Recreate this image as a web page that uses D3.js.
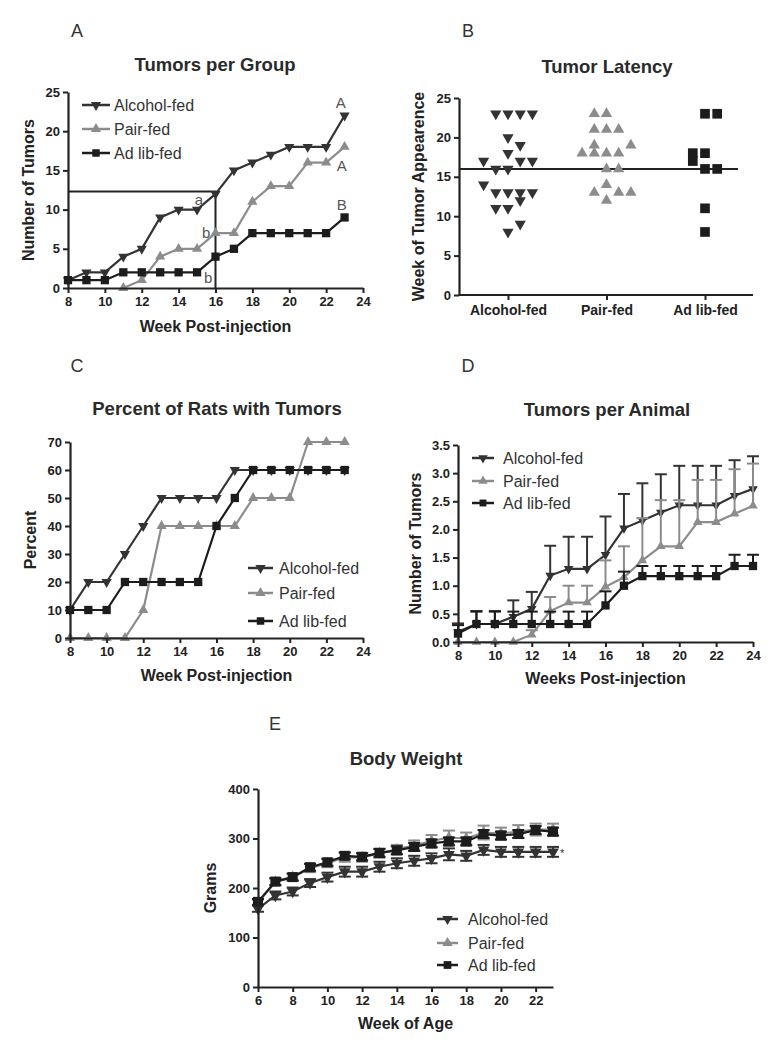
<!DOCTYPE html>
<html>
<head>
<meta charset="utf-8">
<script src="https://cdn.jsdelivr.net/npm/d3@7"></script>
<style>
  body { margin: 0; background: #fff; }
  svg { display: block; }
  text { font-family: "Liberation Sans", Arial, sans-serif; }
</style>
</head>
<body>
<svg id="fig" width="781" height="1050"></svg>
<script>
// ---------- DATA ----------
const groups = ["Alcohol-fed", "Pair-fed", "Ad lib-fed"];

// A: cumulative tumors per group
const weeksA = [8, 9, 10, 11, 12, 13, 14, 15, 16, 17, 18, 19, 20, 21, 22, 23];
const tumorsAlcohol = [1, 2, 2, 4, 5, 9, 10, 10, 12, 15, 16, 17, 18, 18, 18, 22];
const tumorsPair = [null, null, null, 0, 1, 4, 5, 5, 7, 7, 11, 13, 13, 16, 16, 18];
const tumorsAdlib = [1, 1, 1, 2, 2, 2, 2, 2, 4, 5, 7, 7, 7, 7, 7, 9];
const refWeek = 16, refCount = 12.3;
const letterText = ["a", "b", "b", "A", "A", "B"];
const letterWeek = [15.1, 15.5, 15.6, 22.8, 22.85, 22.85];
const letterCount = [11.2, 7.1, 1.3, 23.6, 15.6, 10.6];

// B: week of tumor appearance (value, column slot within group)
const latencyAlcohol = [23, 23, 23, 23, 20, 19, 18, 17, 17, 17, 16, 16, 14, 13, 13, 13, 13, 12, 11, 11, 9, 8];
const slotAlcohol    = [-1, 0, 1, 2, 0, 1, 0, -2, 1, 2, -1, 0, -2, -1, 0, 1, 2, 1, -1, 0, 1, 0];
const latencyPair = [23, 23, 21, 21, 21, 19, 19, 18, 18, 18, 18, 16, 16, 14, 13, 13, 13, 12];
const slotPair    = [-1, 0, -1, 0, 1, -1, 2, -2, -1, 0, 1, 0, 1, 0, -1, 1, 2, 0];
const latencyAdlib = [23, 23, 18, 18, 17, 16, 16, 11, 8];
const slotAdlib    = [0, 1, -1, 0, -1, 0, 1, 0, 0];
const latencyMean = 16;

// C: percent of rats with tumors
const weeksC = [8, 9, 10, 11, 12, 13, 14, 15, 16, 17, 18, 19, 20, 21, 22, 23];
const pctAlcohol = [10, 20, 20, 30, 40, 50, 50, 50, 50, 60, 60, 60, 60, 60, 60, 60];
const pctPair = [0, 0, 0, 0, 10, 40, 40, 40, 40, 40, 50, 50, 50, 70, 70, 70];
const pctAdlib = [10, 10, 10, 20, 20, 20, 20, 20, 40, 50, 60, 60, 60, 60, 60, 60];

// D: tumors per animal (mean, SEM)
const weeksD = [8, 9, 10, 11, 12, 13, 14, 15, 16, 17, 18, 19, 20, 21, 22, 23, 24];
const perAnimalAlcohol = [0.18, 0.32, 0.32, 0.45, 0.59, 1.18, 1.3, 1.3, 1.55, 2.02, 2.16, 2.3, 2.43, 2.43, 2.43, 2.6, 2.72];
const semAlcoholD = [0.15, 0.23, 0.23, 0.29, 0.3, 0.53, 0.57, 0.57, 0.68, 0.61, 0.66, 0.68, 0.7, 0.7, 0.7, 0.63, 0.58];
const perAnimalPair = [0, 0, 0, 0, 0.13, 0.55, 0.7, 0.7, 0.98, 1.15, 1.45, 1.7, 1.7, 2.13, 2.13, 2.28, 2.42];
const semPairD = [0, 0, 0, 0, 0.08, 0.25, 0.3, 0.3, 0.47, 0.55, 0.75, 0.82, 0.82, 0.75, 0.75, 0.79, 0.75];
const perAnimalAdlib = [0.15, 0.32, 0.32, 0.32, 0.32, 0.32, 0.32, 0.32, 0.65, 1.0, 1.17, 1.17, 1.17, 1.17, 1.17, 1.35, 1.35];
const semAdlibD = [0.15, 0.22, 0.22, 0.22, 0.22, 0.22, 0.22, 0.22, 0.25, 0.25, 0.18, 0.18, 0.18, 0.18, 0.18, 0.2, 0.2];

// E: body weight (mean, SEM)
const weeksE = [6, 7, 8, 9, 10, 11, 12, 13, 14, 15, 16, 17, 18, 19, 20, 21, 22, 23];
const weightAlcohol = [158, 185, 193, 210, 222, 233, 233, 243, 250, 255, 260, 268, 265, 277, 273, 273, 273, 273];
const semAlcoholE = [6, 8, 8, 8, 9, 10, 10, 10, 10, 10, 10, 12, 10, 10, 10, 10, 10, 10];
const weightPair = [170, 212, 222, 240, 250, 262, 262, 270, 278, 286, 295, 302, 300, 312, 310, 314, 318, 318];
const semPairE = [6, 7, 7, 8, 8, 9, 9, 9, 9, 10, 12, 14, 12, 14, 12, 13, 12, 12];
const weightAdlib = [172, 213, 222, 242, 252, 265, 263, 271, 276, 283, 290, 294, 294, 309, 306, 309, 317, 314];
const semAdlibE = [6, 7, 7, 7, 7, 7, 7, 8, 8, 8, 8, 8, 8, 8, 8, 8, 8, 8];

// ---------- STYLE ----------
const colors = { "Alcohol-fed": "#333333", "Pair-fed": "#8c8c8c", "Ad lib-fed": "#1c1c1c" };
const shapes = { "Alcohol-fed": "down", "Pair-fed": "up", "Ad lib-fed": "square" };
const axisColor = "#222";

const svg = d3.select("#fig");

function symbolPath(kind, size) {
  if (kind === "square") return d3.symbol(d3.symbolSquare, size * 1.25)();
  return d3.symbol(d3.symbolTriangle, size)();
}
function addSymbol(g, kind, x, y, size, color) {
  g.append("path")
    .attr("d", symbolPath(kind, size))
    .attr("transform", `translate(${x},${y})` + (kind === "down" ? " rotate(180)" : ""))
    .attr("fill", color);
}

function styleAxis(a, fs) {
  a.select(".domain").attr("stroke", axisColor).attr("stroke-width", 2.2);
  a.selectAll(".tick line").attr("stroke", axisColor).attr("stroke-width", 2);
  a.selectAll(".tick text").attr("fill", axisColor).attr("font-size", fs)
    .attr("font-weight", "bold").attr("font-family", '"Liberation Sans", Arial, sans-serif');
}

function drawAxes(g, x, y, xTicks, yTicks, yFmt, xLabel, yLabel, xLabelY, yLabelX) {
  const ax = g.append("g").attr("transform", `translate(0,${y.range()[0]})`)
    .call(d3.axisBottom(x).tickValues(xTicks).tickSize(5).tickSizeOuter(0).tickPadding(4));
  const ay = g.append("g").attr("transform", `translate(${x.range()[0]},0)`)
    .call(d3.axisLeft(y).tickValues(yTicks).tickFormat(yFmt).tickSize(5).tickSizeOuter(0).tickPadding(3));
  styleAxis(ax, 13);
  styleAxis(ay, 13);
  if (xLabel) {
    g.append("text").attr("x", (x.range()[0] + x.range()[1]) / 2).attr("y", xLabelY)
      .attr("text-anchor", "middle").attr("font-size", 16).attr("font-weight", "bold")
      .attr("fill", axisColor).text(xLabel);
  }
  const yc = (y.range()[0] + y.range()[1]) / 2;
  g.append("text").attr("transform", `translate(${yLabelX},${yc}) rotate(-90)`)
    .attr("text-anchor", "middle").attr("font-size", 16).attr("font-weight", "bold")
    .attr("fill", axisColor).text(yLabel);
}

function title(text, x, y) {
  svg.append("text").attr("x", x).attr("y", y).attr("text-anchor", "middle")
    .attr("font-size", 18.5).attr("font-weight", "bold").attr("fill", "#2a2a2a").text(text);
}
function panelLetter(text, x, y) {
  svg.append("text").attr("x", x).attr("y", y).attr("text-anchor", "middle")
    .attr("font-size", 18).attr("fill", "#333").text(text);
}

function drawSeries(g, x, y, weeks, vals, group, size, sem, bothSides) {
  const pts = weeks.map((w, i) => ({ w, v: vals[i], e: sem ? sem[i] : 0 })).filter(d => d.v != null);
  const c = colors[group];
  if (sem) {
    pts.filter(d => d.e > 0).forEach(d => {
      const lo = bothSides ? d.v - d.e : d.v;
      g.append("line").attr("x1", x(d.w)).attr("x2", x(d.w)).attr("y1", y(lo)).attr("y2", y(d.v + d.e))
        .attr("stroke", c).attr("stroke-width", 2);
      const caps = bothSides ? [d.v + d.e, d.v - d.e] : [d.v + d.e];
      caps.forEach(cv => g.append("line").attr("x1", x(d.w) - 6).attr("x2", x(d.w) + 6)
        .attr("y1", y(cv)).attr("y2", y(cv)).attr("stroke", c).attr("stroke-width", 2));
    });
  }
  g.append("path").datum(pts)
    .attr("d", d3.line().x(d => x(d.w)).y(d => y(d.v)))
    .attr("fill", "none").attr("stroke", c).attr("stroke-width", 2.2);
  pts.forEach(d => addSymbol(g, shapes[group], x(d.w), y(d.v), size, c));
}

function legend(g, x0, x1, tx, ys, size) {
  groups.forEach((grp, i) => {
    const c = colors[grp];
    g.append("line").attr("x1", x0).attr("x2", x1).attr("y1", ys[i]).attr("y2", ys[i])
      .attr("stroke", c).attr("stroke-width", 2.5);
    addSymbol(g, shapes[grp], (x0 + x1) / 2, ys[i], size, c);
    g.append("text").attr("x", tx).attr("y", ys[i]).attr("dy", "0.35em")
      .attr("font-size", 16).attr("fill", "#333").text(grp);
  });
}

// ---------- PANEL A ----------
{
  const g = svg.append("g");
  const x = d3.scaleLinear().domain([8, 24]).range([68, 363]);
  const y = d3.scaleLinear().domain([0, 25]).range([288, 92]);
  // reference box
  g.append("path")
    .attr("d", `M${x(8)},${y(refCount)}H${x(refWeek)}V${y(0)}`)
    .attr("fill", "none").attr("stroke", axisColor).attr("stroke-width", 2);
  drawSeries(g, x, y, weeksA, tumorsAlcohol, "Alcohol-fed", 45);
  drawSeries(g, x, y, weeksA, tumorsPair, "Pair-fed", 45);
  drawSeries(g, x, y, weeksA, tumorsAdlib, "Ad lib-fed", 55);
  drawAxes(g, x, y, d3.range(8, 25, 2), d3.range(0, 26, 5), d3.format("d"),
    "Week Post-injection", "Number of Tumors", 332, 34);
  letterText.forEach((t, i) => {
    g.append("text").attr("x", x(letterWeek[i])).attr("y", y(letterCount[i])).attr("dy", "0.35em")
      .attr("text-anchor", "middle").attr("font-size", 15).attr("fill", "#555").text(t);
  });
  legend(g, 82, 110, 114, [105, 129, 153], 45);
  title("Tumors per Group", 215, 71);
  panelLetter("A", 77, 37);
}

// ---------- PANEL B ----------
{
  const g = svg.append("g");
  const x = d3.scalePoint().domain(groups).range([508, 705]);
  const y = d3.scaleLinear().domain([0, 25]).range([295, 98]);
  const slotW = 12.2;
  g.append("line").attr("x1", 459).attr("x2", 738).attr("y1", y(latencyMean)).attr("y2", y(latencyMean))
    .attr("stroke", axisColor).attr("stroke-width", 2);
  const sets = [[latencyAlcohol, slotAlcohol], [latencyPair, slotPair], [latencyAdlib, slotAdlib]];
  sets.forEach(([vals, slots], gi) => {
    const grp = groups[gi];
    vals.forEach((v, i) => addSymbol(g, shapes[grp], x(grp) + slots[i] * slotW, y(v),
      grp === "Ad lib-fed" ? 75 : 55, colors[grp]));
  });
  const ax = g.append("g").attr("transform", `translate(0,${y(0)})`)
    .call(d3.axisBottom(x).tickSize(5).tickSizeOuter(0).tickPadding(5));
  ax.select(".domain").attr("d", `M459,0H753`);
  const ay = g.append("g").attr("transform", `translate(459,0)`)
    .call(d3.axisLeft(y).tickValues(d3.range(0, 26, 5)).tickSize(5).tickSizeOuter(0).tickPadding(3));
  styleAxis(ax, 14);
  styleAxis(ay, 13);
  g.append("text").attr("transform", `translate(424,${(y(0) + y(25)) / 2}) rotate(-90)`)
    .attr("text-anchor", "middle").attr("font-size", 16).attr("font-weight", "bold")
    .attr("fill", axisColor).text("Week of Tumor Appearence");
  title("Tumor Latency", 607, 73);
  panelLetter("B", 468, 37);
}

// ---------- PANEL C ----------
{
  const g = svg.append("g");
  const x = d3.scaleLinear().domain([8, 24]).range([70, 363]);
  const y = d3.scaleLinear().domain([0, 70]).range([638, 442]);
  drawSeries(g, x, y, weeksC, pctAlcohol, "Alcohol-fed", 45);
  drawSeries(g, x, y, weeksC, pctPair, "Pair-fed", 45);
  drawSeries(g, x, y, weeksC, pctAdlib, "Ad lib-fed", 55);
  drawAxes(g, x, y, d3.range(8, 25, 2), d3.range(0, 71, 10), d3.format("d"),
    "Week Post-injection", "Percent", 681, 36);
  legend(g, 248, 273, 279, [568, 593, 621], 45);
  title("Percent of Rats with Tumors", 217, 415);
  panelLetter("C", 77, 372);
}

// ---------- PANEL D ----------
{
  const g = svg.append("g");
  const x = d3.scaleLinear().domain([8, 24]).range([458, 753]);
  const y = d3.scaleLinear().domain([0, 3.5]).range([642, 445]);
  drawSeries(g, x, y, weeksD, perAnimalAlcohol, "Alcohol-fed", 40, semAlcoholD, false);
  drawSeries(g, x, y, weeksD, perAnimalPair, "Pair-fed", 40, semPairD, false);
  drawSeries(g, x, y, weeksD, perAnimalAdlib, "Ad lib-fed", 55, semAdlibD, false);
  drawAxes(g, x, y, d3.range(8, 25, 2), d3.range(0, 3.51, 0.5), d3.format(".1f"),
    "Weeks Post-injection", "Number of Tumors", 684, 421);
  legend(g, 472, 494, 503, [458, 481, 503], 38);
  title("Tumors per Animal", 607, 416);
  panelLetter("D", 468, 372);
}

// ---------- PANEL E ----------
{
  const g = svg.append("g");
  const x = d3.scaleLinear().domain([6, 23]).range([258, 553]);
  const y = d3.scaleLinear().domain([0, 400]).range([987, 789]);
  drawSeries(g, x, y, weeksE, weightAlcohol, "Alcohol-fed", 60, semAlcoholE, true);
  drawSeries(g, x, y, weeksE, weightPair, "Pair-fed", 55, semPairE, true);
  drawSeries(g, x, y, weeksE, weightAdlib, "Ad lib-fed", 80, semAdlibE, true);
  drawAxes(g, x, y, d3.range(6, 23, 2), d3.range(0, 401, 100), d3.format("d"),
    "Week of Age", "Grams", 1029, 216);
  g.append("text").attr("x", x(23) + 7).attr("y", y(weightAlcohol[weightAlcohol.length - 1]))
    .attr("dy", "0.5em").attr("font-size", 11).attr("fill", "#333").text("*");
  legend(g, 437, 458, 468, [919, 943, 965], 48);
  title("Body Weight", 406, 765);
  panelLetter("E", 275, 730);
}
</script>
</body>
</html>
